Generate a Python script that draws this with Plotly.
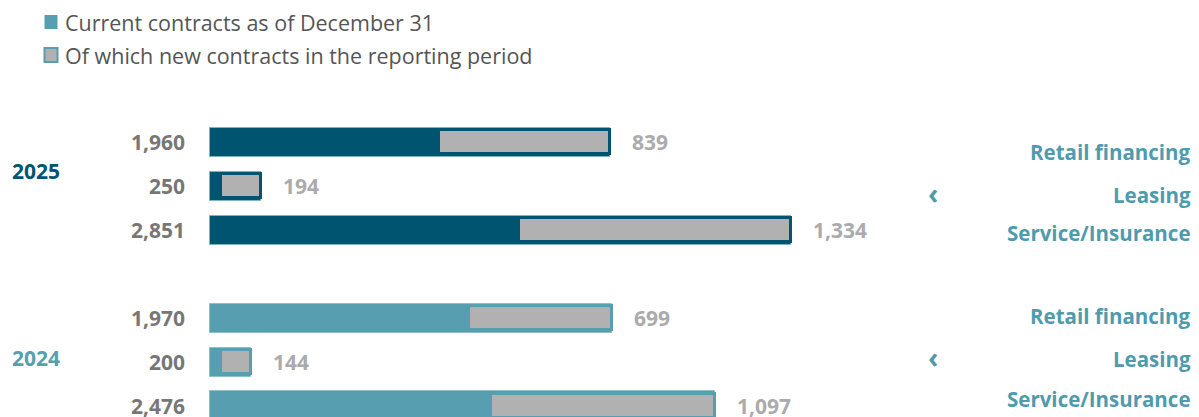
import plotly.graph_objects as go

# ---- data ----
categories = ["Retail financing", "Leasing", "Service/Insurance"]
years = ["2025", "2024"]
current_2025 = [1960, 250, 2851]
new_2025 = [839, 194, 1334]
current_2024 = [1970, 200, 2476]
new_2024 = [699, 144, 1097]

legend_current = "Current contracts as of December 31"
legend_new = "Of which new contracts in the reporting period"

# ---- styles ----
DARK = "#00546f"
LIGHT = "#579eb1"
GRAY = "#b1b1b1"
LABEL_GRAY = "#777777"
VALUE_GRAY = "#ababab"
CAT_COLOR = "#4f9bae"
FONT = "Open Sans"
W, H = 1199, 417

groups = [
    (years[0], current_2025, new_2025, DARK, "#7fb2c2"),
    (years[1], current_2024, new_2024, LIGHT, "#8cc0cd"),
]

n = len(categories)
gap = 1
def ypos(g, i):
    return g * (n + gap) + i

fig = go.Figure()

for g, (yr, cur, new, col, outline) in enumerate(groups):
    fig.add_trace(go.Bar(
        orientation="h",
        y=[ypos(g, i) for i in range(n)],
        x=cur,
        width=0.66,
        marker=dict(color=col, line=dict(color=outline, width=1)),
        name=legend_current,
        showlegend=False,
        hoverinfo="skip",
    ))

for g, (yr, cur, new, col, outline) in enumerate(groups):
    fig.add_trace(go.Bar(
        orientation="h",
        y=[ypos(g, i) for i in range(n)],
        x=new,
        base=[c - v for c, v in zip(cur, new)],
        width=0.56,
        marker=dict(color=GRAY, line=dict(color=col, width=3)),
        name=legend_new,
        showlegend=False,
        hoverinfo="skip",
    ))

annotations = []
cat_shift = [[-10, -9, -3], [2, 3, 7]]
year_shift = [15, 4]
year_color = [DARK, LIGHT]
for g, (yr, cur, new, col, outline) in enumerate(groups):
    for i in range(n):
        y = ypos(g, i)
        annotations.append(dict(
            x=0, y=y, xref="x", yref="y", text=f"<b>{cur[i]:,}</b>",
            xanchor="right", yanchor="middle", xshift=-23, showarrow=False,
            font=dict(family=FONT, size=21, color=LABEL_GRAY)))
        annotations.append(dict(
            x=cur[i], y=y, xref="x", yref="y", text=f"<b>{new[i]:,}</b>",
            xanchor="left", yanchor="middle", xshift=20, showarrow=False,
            font=dict(family=FONT, size=21, color=VALUE_GRAY)))
        annotations.append(dict(
            x=1193 / W, y=y, xref="paper", yref="y", text=f"<b>{categories[i]}</b>",
            xanchor="right", yanchor="middle", yshift=cat_shift[g][i], showarrow=False,
            font=dict(family=FONT, size=20.5, color=CAT_COLOR)))
    annotations.append(dict(
        x=10 / W, y=ypos(g, 1), xref="paper", yref="y", text=f"<b>{yr}</b>",
        xanchor="left", yanchor="middle", yshift=year_shift[g], showarrow=False,
        font=dict(family=FONT, size=21, color=year_color[g])))
    annotations.append(dict(
        x=933 / W, y=ypos(g, 1), xref="paper", yref="y", text="<b>‹</b>",
        xanchor="center", yanchor="middle", yshift=cat_shift[g][1] + 2, showarrow=False,
        font=dict(family=FONT, size=28, color=CAT_COLOR)))

# custom legend
shapes = []
legend_items = [(legend_current, LIGHT, LIGHT), (legend_new, GRAY, LIGHT)]
for k, (label, fill, border) in enumerate(legend_items):
    cy = 22 + 33 * k
    shapes.append(dict(
        type="rect", xref="paper", yref="paper",
        x0=44.5 / W, x1=57.5 / W, y0=1 - (cy - 7) / H, y1=1 - (cy + 7) / H,
        fillcolor=fill, line=dict(color=border, width=2 if k else 0)))
    annotations.append(dict(
        x=63 / W, y=1 - cy / H, xref="paper", yref="paper", text=label,
        xanchor="left", yanchor="middle", showarrow=False,
        font=dict(family=FONT, size=21.5, color="#555555")))

fig.update_layout(
    width=W, height=H,
    margin=dict(l=0, r=0, t=0, b=0),
    paper_bgcolor="white", plot_bgcolor="white",
    barmode="overlay",
    bargap=0,
    showlegend=False,
    xaxis=dict(range=[-1030, 4850], visible=False, fixedrange=True),
    yaxis=dict(range=[6.25, -3.23], visible=False, fixedrange=True),
    annotations=annotations,
    shapes=shapes,
)

fig.write_html("out.html", config={"displayModeBar": False},
               post_script="document.body.style.margin='0';document.body.style.overflow='hidden';")
